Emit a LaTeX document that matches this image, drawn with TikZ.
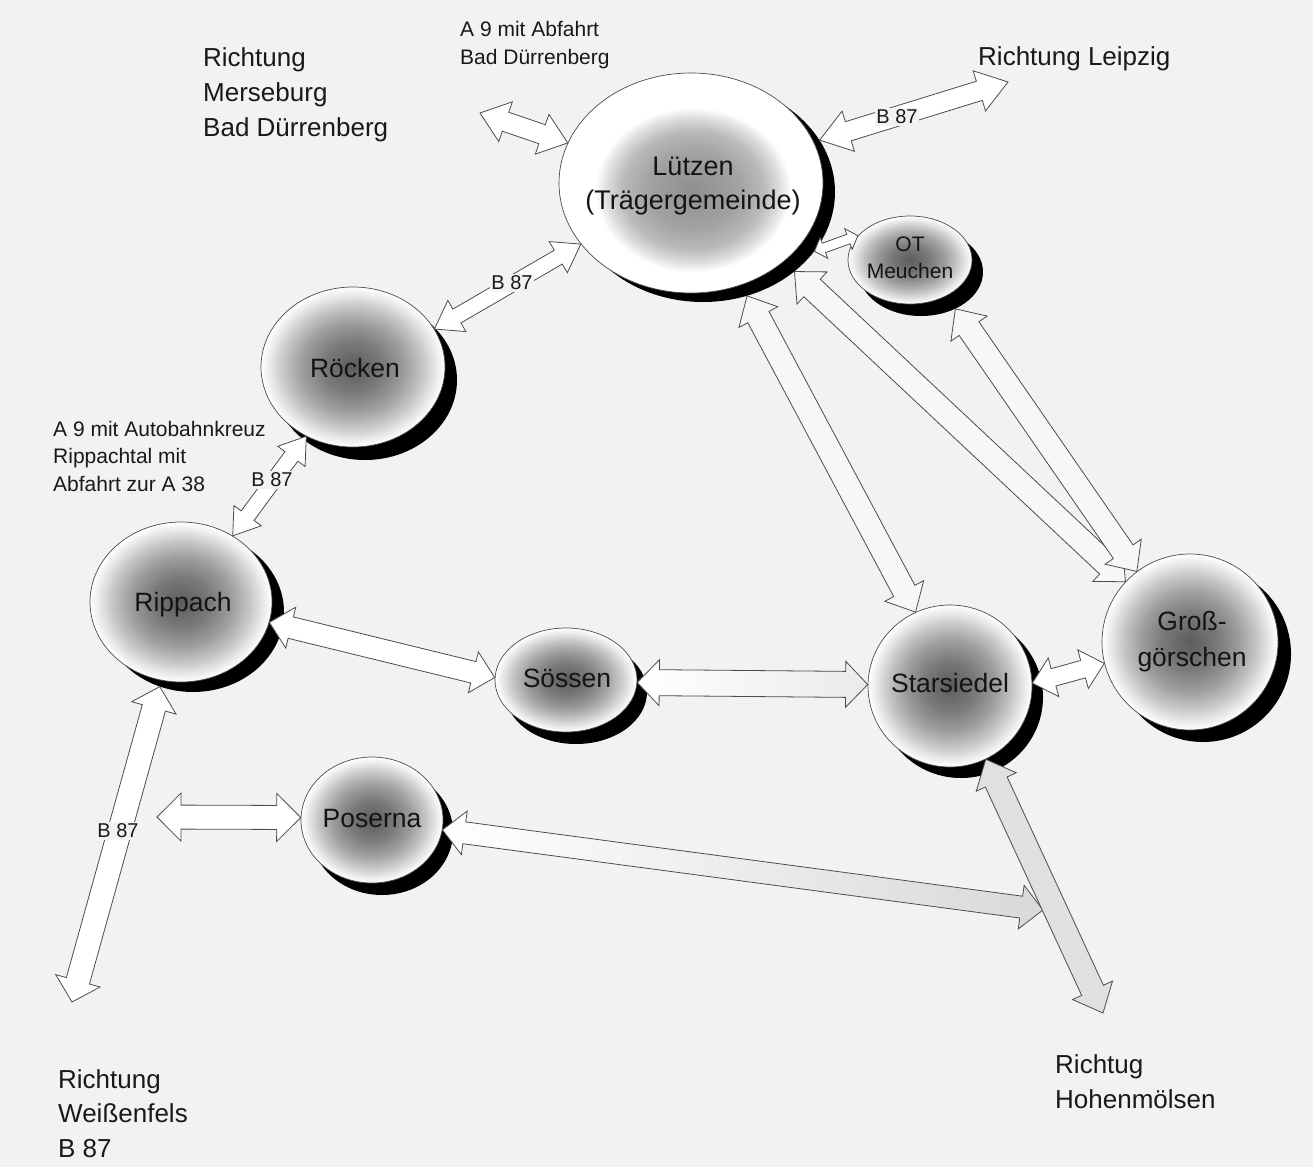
\documentclass[tikz,border=0pt]{standalone}
\usepackage{fontspec}
\setmainfont{Liberation Sans}
\usetikzlibrary{shapes.geometric,calc}
\pgfdeclareradialshading{ballsh}{\pgfpoint{0bp}{0bp}}{color(0bp)=(black!64); color(8bp)=(black!52); color(14bp)=(black!38); color(19bp)=(black!22); color(23bp)=(black!7); color(25bp)=(white); color(50bp)=(white)}
\pgfdeclareradialshading{blobsh}{\pgfpoint{0bp}{0bp}}{color(0bp)=(black!44); color(12bp)=(black!36); color(18bp)=(black!27); color(22bp)=(black!13); color(25bp)=(white); color(50bp)=(white)}
% #1 style, #2 name, #3 cx, #4 cy, #5 width, #6 height, #7 dx, #8 dy
\newcommand{\ballnode}[8][ball]{%
  \node[ballshadow, minimum width=#5, minimum height=#6] (#2-sh) at (#3+#7,#4+#8) {};
  \node[#1, minimum width=#5, minimum height=#6] (#2) at (#3,#4) {};
}
% #1 opts, #2 start, #3 end, #4 shaft half width, #5 head half width, #6 head length
\newcommand{\blockarrow}[6][]{%
  \coordinate (ba-s) at (#2);
  \coordinate (ba-e) at (#3);
  \coordinate (ba-p) at ($(ba-s)!#6!(ba-e)$);
  \coordinate (ba-q) at ($(ba-e)!#6!(ba-s)$);
  \draw[road,#1] (ba-s)
    -- ($(ba-p)!#5!90:(ba-e)$) -- ($(ba-p)!#4!90:(ba-e)$)
    -- ($(ba-q)!#4!-90:(ba-s)$) -- ($(ba-q)!#5!-90:(ba-s)$)
    -- (ba-e)
    -- ($(ba-q)!#5!90:(ba-s)$) -- ($(ba-q)!#4!90:(ba-s)$)
    -- ($(ba-p)!#4!-90:(ba-e)$) -- ($(ba-p)!#5!-90:(ba-e)$)
    -- cycle;
}
\begin{document}
\begin{tikzpicture}[x=1pt,y=-1pt,
  ball/.style={ellipse, draw=black!70, line width=0.7pt, shade, shading=ballsh, inner sep=0pt},
  whiteball/.style={ellipse, draw=black!70, line width=0.7pt, fill=white, inner sep=0pt},
  ballshadow/.style={ellipse, fill=black, inner sep=0pt},
  road/.style={draw=black!70, line width=0.8pt, fill=white, line join=miter},
  bigtxt/.style={font=\fontsize{26}{35}\selectfont, text=black!90, inner sep=0pt, align=left, anchor=north west},
  smalltxt/.style={font=\fontsize{21}{27.5}\selectfont, text=black!90, inner sep=0pt, align=left, anchor=north west},
  townname/.style={font=\fontsize{26.5}{34}\selectfont, text=black!92, inner sep=0pt, align=center},
  b87/.style={font=\fontsize{20}{24}\selectfont, text=black!90, fill=black!5, inner sep=1.5pt}
]
\fill[black!5] (0,0) rectangle (1313,1167);
\useasboundingbox (0,0) rectangle (1313,1167);

% towns
\ballnode[whiteball]{luetzen}{691}{183}{264}{220}{12}{9}
\node[ellipse, shade, shading=blobsh, minimum width=196, minimum height=165, inner sep=0pt] (blob) at (693,190) {};
\ballnode{meuchen}{910}{260}{124}{88}{11}{12}
\ballnode{roecken}{353}{367}{184}{160}{12}{13}
\ballnode{rippach}{181}{602}{182}{160}{12}{10}
\ballnode{soessen}{566}{680}{142}{104}{10}{12}
\ballnode{starsiedel}{950}{686}{164}{162}{11}{11}
\ballnode{grossg}{1190}{642}{176}{176}{13}{12}
\ballnode{poserna}{372}{820}{142}{126}{10}{12}

% free ends
\coordinate (a9) at (480,113);
\coordinate (leipzig) at (1008,82);
\coordinate (weissenfels) at (72,1002);
\coordinate (posernaB) at (157,817);
\coordinate (hohenA) at (1043,910);
\coordinate (hohenB) at (1103,1013);

% connectors
\blockarrow{a9}{luetzen.162}{10pt}{21pt}{27pt}
\blockarrow{luetzen-sh.24}{leipzig}{10pt}{21pt}{30pt}
\blockarrow{roecken.25}{luetzen.209}{8pt}{18pt}{26pt}
\blockarrow{luetzen-sh.-28}{meuchen.155}{5pt}{11pt}{10pt}
\blockarrow{roecken.236}{rippach.52}{8pt}{17pt}{25pt}
\blockarrow{rippach.-13}{soessen.178}{11pt}{21pt}{22pt}
\blockarrow[left color=white, right color=black!8]{soessen.-2}{starsiedel.179}{13pt}{23pt}{22pt}
\blockarrow{starsiedel.2}{grossg.194}{9pt}{20pt}{22pt}
\blockarrow[fill=black!3]{luetzen-sh.-67}{starsiedel.115}{12pt}{22pt}{24pt}
\blockarrow[fill=black!3]{luetzen-sh.-41}{grossg.137}{12pt}{22pt}{24pt}
\blockarrow[fill=black!3]{meuchen-sh.-47}{grossg.127}{12pt}{22pt}{24pt}
\blockarrow{rippach-sh.-114}{weissenfels}{12pt}{23pt}{22pt}
\blockarrow{posernaB}{poserna.178}{12pt}{24pt}{24pt}
\blockarrow[left color=white, right color=black!15]{poserna.-8}{hohenA}{11pt}{22pt}{22pt}
\blockarrow[fill=black!12]{starsiedel.-64}{hohenB}{12pt}{22pt}{25pt}

% road labels
\node[b87] (b87leipzig) at (897,117) {B 87};
\node[b87] (b87roecken) at (512,283) {B 87};
\node[b87] (b87rippach) at (272,480) {B 87};
\node[b87] (b87weiss) at (118,831) {B 87};

% town names
\node[townname, font=\fontsize{27}{34}\selectfont] (tluetzen) at (693,186) {Lützen\\(Trägergemeinde)};
\node[townname, font=\fontsize{21}{27}\selectfont] (tmeuchen) at (910,258) {OT\\Meuchen};
\node[townname, anchor=base] (troecken) at (355,377.5) {Röcken};
\node[townname, anchor=base] (trippach) at (183,611.5) {Rippach};
\node[townname, anchor=base] (tsoessen) at (567,687.5) {Sössen};
\node[townname, anchor=base] (tstarsiedel) at (950,692.5) {Starsiedel};
\node[townname, font=\fontsize{26.5}{36}\selectfont] (tgrossg) at (1192,642) {Groß-\\görschen};
\node[townname, anchor=base] (tposerna) at (372,827.5) {Poserna};

% direction texts
\node[bigtxt] (merseburg) at (203,47.7) {Richtung\\Merseburg\\Bad Dürrenberg};
\node[smalltxt] (a9text) at (460,21.5) {A 9 mit Abfahrt\\Bad Dürrenberg};
\node[bigtxt] (leipzigtxt) at (978,46) {Richtung Leipzig};
\node[smalltxt] (a9kreuz) at (53,421) {A 9 mit Autobahnkreuz\\Rippachtal mit\\Abfahrt zur A 38};
\node[bigtxt, font=\fontsize{26}{34.5}\selectfont] (weissenfelstxt) at (58,1069) {Richtung\\Weißenfels\\B 87};
\node[bigtxt] (hohentxt) at (1055,1054) {Richtug\\Hohenmölsen};
\end{tikzpicture}
\end{document}
